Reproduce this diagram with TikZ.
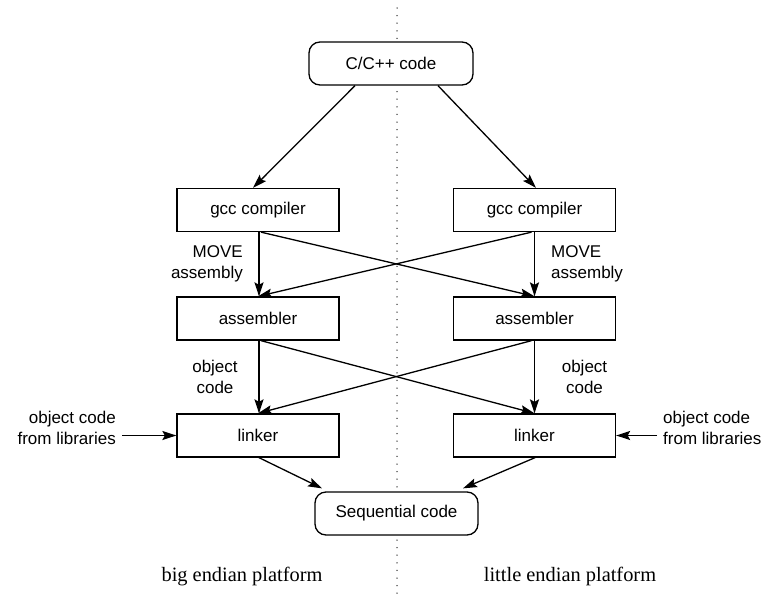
\documentclass[tikz,border=0pt]{standalone}
\usepackage{fontspec}
\setmainfont{Liberation Sans}
\newfontfamily\serifx{Liberation Serif}
\usetikzlibrary{arrows.meta}
\begin{document}
\begin{tikzpicture}[x=1pt,y=-1pt,
 box/.style={draw,fill=white,line width=1.3pt,minimum width=162pt,minimum height=43pt,inner sep=0pt,font=\fontsize{17}{21}\selectfont},
 rbox/.style={box,rounded corners=11pt,minimum width=164pt},
 lbl/.style={inner sep=0pt,font=\fontsize{17}{21}\selectfont},
 arr/.style={line width=1.3pt,-{Stealth[length=14pt,width=9pt,inset=2.5pt]}},
 plat/.style={inner sep=0pt,font=\serifx\fontsize{20.4}{24}\selectfont,anchor=base},
 divider/.style={draw=black!80,line width=1.5pt,line cap=round,dash pattern=on 0pt off 7.6pt}]
\useasboundingbox (0,0) rectangle (761,603);
% divider
\coordinate (dtop) at (397,8);
\coordinate (dbot) at (397,600);
\draw[divider] (dtop) -- (dbot);
% nodes
\node[rbox] (top) at (391,63.5) {C/C++ code};
\node[box] (gccL) at (258,210) {gcc compiler};
\node[box] (gccR) at (534.5,210) {gcc compiler};
\node[box] (asmL) at (258,318.5) {assembler};
\node[box] (asmR) at (534.5,318.5) {assembler};
\node[box] (lnkL) at (258,435.5) {linker};
\node[box] (lnkR) at (534.5,435.5) {linker};
\node[rbox,minimum width=163pt] (seq) at (396.5,513.5) {Sequential code};
% labels
\node[lbl,anchor=east,align=right] (movL) at (243,264) {MOVE\\assembly};
\node[lbl,anchor=west,align=left] (movR) at (551,264) {MOVE\\assembly};
\node[lbl,align=center] (objL) at (215,377) {object\\code};
\node[lbl,align=center] (objR) at (584.5,377) {object\\code};
\node[lbl,anchor=east,align=right] (libL) at (116,428) {object code\\from libraries};
\node[lbl,anchor=west,align=left] (libR) at (663,428) {object code\\from libraries};
\node[plat] (platL) at (242,581) {big endian platform};
\node[plat] (platR) at (570,581) {little endian platform};
% connectors
\draw[arr] ([xshift=-36pt]top.south) -- ([xshift=-5pt]gccL.north);
\draw[arr] ([xshift=47pt]top.south) -- ([xshift=1.5pt]gccR.north);
\draw[arr] ([xshift=1pt]gccL.south) -- ([xshift=1pt]asmL.north);
\draw[arr] (gccR.south) -- (asmR.north);
\draw[arr] ([xshift=3pt]gccL.south) -- (asmR.north);
\draw[arr] ([xshift=-3pt]gccR.south) -- (asmL.north);
\draw[arr] ([xshift=1pt]asmL.south) -- ([xshift=1pt]lnkL.north);
\draw[arr] (asmR.south) -- (lnkR.north);
\draw[arr] ([xshift=3pt]asmL.south) -- (lnkR.north);
\draw[arr] ([xshift=-3pt]asmR.south) -- (lnkL.north);
\draw[arr] ([xshift=6pt]libL.east |- lnkL.west) -- (lnkL.west);
\draw[arr] ([xshift=-6pt]libR.west |- lnkR.east) -- (lnkR.east);
\draw[arr] ([xshift=1pt]lnkL.south) -- ([xshift=-74.5pt,yshift=3pt]seq.north);
\draw[arr] ([xshift=0.5pt]lnkR.south) -- ([xshift=66.5pt,yshift=3pt]seq.north);
\end{tikzpicture}
\end{document}
